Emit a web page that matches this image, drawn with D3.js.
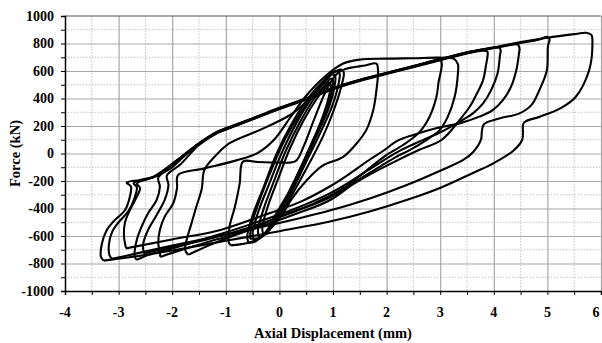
<!DOCTYPE html>
<html>
<head>
<meta charset="utf-8">
<script src="https://cdn.jsdelivr.net/npm/d3@7"></script>
<style>
  body { margin: 0; background: #fff; }
  svg { display: block; }
  text { font-family: "Liberation Serif", "Times New Roman", serif; font-weight: bold; fill: #000; }
</style>
</head>
<body>
<svg id="chart" width="602" height="343"></svg>
<script>
// axis ticks
const xTicks = [-4, -3, -2, -1, 0, 1, 2, 3, 4, 5, 6];
const yTicks = [-1000, -800, -600, -400, -200, 0, 200, 400, 600, 800, 1000];

// hysteresis loops, [displacement mm, force kN]
const loop1 = [[-3.28,-779],[-3.33,-750],[-3.31,-653],[-3.22,-556],[-3.1,-496],[-2.88,-411],[-2.79,-314],[-2.77,-240],[-2.85,-212],[-2.6,-192],[-2.35,-168],[-1.9,-45],[-1.5,75],[-1.15,160],[-0.8,212],[-0.4,272],[0,332],[0.5,402],[1,477],[1.5,537],[2,587],[2.5,637],[3,687],[3.5,737],[4,772],[4.5,810],[5,842],[5.5,868],[5.72,878],[5.82,862],[5.84,800],[5.78,607],[5.53,413],[5.25,330],[4.86,268],[4.6,235],[4.55,215],[4.53,100],[4.37,22],[4.0,-70],[3.62,-140],[3.03,-245],[2.4,-335],[1.7,-420],[0.94,-495],[0,-565],[-1,-635],[-2,-705],[-2.8,-755],[-3.28,-779]];
const loop2 = [[-3.12,-766],[-3.17,-740],[-3.18,-660],[-3.12,-570],[-3.0,-500],[-2.82,-420],[-2.7,-320],[-2.66,-245],[-2.72,-215],[-2.5,-190],[-2.3,-165],[-1.9,-52],[-1.5,68],[-1.15,153],[-0.8,205],[-0.4,265],[0,326],[0.5,396],[1,471],[1.5,531],[2,582],[2.5,632],[3,681],[3.5,731],[4,767],[4.5,803],[4.85,830],[5.0,848],[5.04,832],[5.01,780],[4.99,606],[4.85,461],[4.70,352],[4.48,292],[4.1,255],[3.82,215],[3.78,170],[3.76,100],[3.62,13],[3.43,-47],[3.0,-125],[2.4,-225],[1.7,-325],[0.94,-415],[0,-505],[-1,-590],[-2,-670],[-2.7,-730],[-3.12,-766]];
const loop3 = [[-2.86,-690],[-2.9,-600],[-2.88,-500],[-2.8,-420],[-2.68,-330],[-2.6,-250],[-2.66,-218],[-2.4,-178],[-2.28,-160],[-1.9,-48],[-1.5,72],[-1.15,157],[-0.8,208],[-0.4,268],[0,329],[0.5,399],[1,474],[1.5,534],[2,584],[2.5,634],[3,684],[3.5,734],[4,769],[4.38,795],[4.45,792],[4.48,765],[4.47,728],[4.42,606],[4.32,485],[4.17,388],[3.98,316],[3.73,268],[3.36,219],[2.94,185],[2.5,135],[2.19,90],[1.94,20],[1.7,-40],[1.3,-150],[0.94,-240],[0.4,-350],[-0.3,-450],[-1.1,-556],[-2.0,-625],[-2.6,-670],[-2.86,-690]];
const loop4 = [[-2.66,-774],[-2.7,-750],[-2.66,-628],[-2.57,-531],[-2.45,-434],[-2.29,-338],[-2.23,-241],[-2.26,-175],[-2.0,-100],[-1.75,-10],[-1.5,70],[-1.15,158],[-0.8,210],[-0.4,270],[0,330],[0.5,400],[1,475],[1.5,535],[2,585],[2.5,635],[3,685],[3.5,735],[3.95,765],[4.1,770],[4.13,745],[4.12,728],[4.07,582],[3.95,461],[3.8,364],[3.61,292],[3.42,245],[3.03,160],[2.6,85],[2.2,10],[1.7,-110],[1.3,-210],[0.94,-290],[0.3,-400],[-0.5,-510],[-1.3,-610],[-2.0,-690],[-2.5,-745],[-2.66,-774]];
const loop5 = [[-2.52,-728],[-2.54,-700],[-2.54,-653],[-2.45,-556],[-2.29,-447],[-2.14,-338],[-2.07,-229],[-2.1,-160],[-1.85,-80],[-1.5,62],[-1.15,150],[-0.8,203],[-0.4,263],[0,323],[0.5,393],[1,468],[1.5,528],[2,578],[2.5,628],[3,678],[3.5,728],[3.8,748],[3.88,742],[3.88,700],[3.86,655],[3.8,534],[3.67,425],[3.55,340],[3.36,243],[3.03,100],[2.6,25],[2.2,-50],[1.7,-150],[1.3,-240],[0.94,-320],[0.3,-420],[-0.5,-530],[-1.3,-620],[-2.0,-680],[-2.4,-715],[-2.52,-728]];
const loop6 = [[-2.22,-752],[-2.24,-700],[-2.26,-653],[-2.23,-556],[-2.14,-459],[-1.98,-362],[-1.91,-253],[-1.89,-156],[-1.42,-110],[-0.8,-50],[-0.4,5],[-0.1,100],[0.2,260],[0.5,420],[0.85,560],[1.19,654],[1.5,683],[2.0,690],[2.5,693],[3.0,697],[3.25,690],[3.33,650],[3.33,581],[3.27,412],[3.14,266],[2.99,170],[2.74,97],[2.43,24],[2.18,-24],[1.9,-90],[1.5,-185],[0.94,-340],[0.3,-440],[-0.5,-550],[-1.3,-640],[-1.9,-710],[-2.22,-752]];
const loop7 = [[-1.70,-737],[-1.76,-700],[-1.73,-628],[-1.64,-508],[-1.55,-387],[-1.45,-260],[-1.40,-120],[-1.2,-20],[-0.93,75],[-0.36,172],[0.2,280],[0.6,400],[1.0,470],[1.5,533],[2,583],[2.5,633],[2.9,678],[3.0,684],[3.03,650],[2.97,520],[2.93,412],[2.8,266],[2.6,150],[2.3,60],[2.0,-10],[1.7,-100],[1.2,-250],[0.6,-370],[0,-460],[-0.6,-560],[-1.2,-650],[-1.6,-718],[-1.70,-737]];
const loop8 = [[-0.9,-668],[-0.94,-652],[-0.93,-532],[-0.83,-387],[-0.74,-217],[-0.68,-59],[-0.4,-62],[0,-66],[0.3,-55],[0.45,50],[0.65,250],[0.9,480],[1.1,590],[1.25,617],[1.6,640],[1.81,654],[1.84,605],[1.81,460],[1.75,315],[1.62,170],[1.44,73],[1.19,-24],[0.8,-90],[0.49,-203],[0.24,-324],[0.05,-445],[-0.2,-560],[-0.5,-640],[-0.9,-668]];
const loop9 = [[-0.58,-648],[-0.6,-600],[-0.5,-450],[-0.3,-250],[-0.05,0],[0.25,230],[0.55,410],[0.85,540],[1.05,600],[1.12,585],[1.1,500],[0.97,330],[0.75,140],[0.5,-60],[0.25,-260],[0,-430],[-0.25,-570],[-0.45,-640],[-0.58,-648]];
const loop10 = [[-0.48,-628],[-0.5,-580],[-0.4,-430],[-0.2,-230],[0.05,10],[0.33,230],[0.6,400],[0.85,520],[0.98,575],[1.04,560],[1.02,470],[0.9,310],[0.68,120],[0.44,-80],[0.2,-270],[-0.05,-440],[-0.25,-570],[-0.38,-620],[-0.48,-628]];
const loop11 = [[-0.38,-610],[-0.4,-560],[-0.3,-410],[-0.1,-200],[0.12,20],[0.4,240],[0.65,400],[0.88,510],[0.96,545],[1.0,530],[0.97,440],[0.85,290],[0.62,90],[0.4,-100],[0.16,-290],[-0.08,-450],[-0.22,-560],[-0.3,-600],[-0.38,-610]];
const loop12 = [[-0.3,-590],[-0.32,-540],[-0.22,-390],[-0.02,-180],[0.2,40],[0.45,240],[0.7,400],[0.88,490],[0.93,515],[0.96,500],[0.92,410],[0.8,260],[0.6,70],[0.38,-120],[0.15,-310],[-0.06,-460],[-0.18,-550],[-0.24,-585],[-0.3,-590]];
const loop13 = [[-0.55,-620],[-0.52,-520],[-0.38,-350],[-0.15,-120],[0.1,100],[0.4,300],[0.7,460],[0.95,570],[1.15,610],[1.2,590],[1.15,480],[1.0,300],[0.82,130],[0.6,-40],[0.35,-220],[0.1,-390],[-0.15,-530],[-0.35,-610],[-0.55,-620]];

const loops = [loop1, loop2, loop3, loop4, loop5, loop6, loop7, loop8, loop9, loop10, loop11, loop12, loop13];

const plotLeft = 65, plotRight = 601, plotTop = 16, plotBottom = 291;

const svg = d3.select("#chart");

const x = d3.scaleLinear().domain([-4, 6]).range([plotLeft, plotRight]);
const y = d3.scaleLinear().domain([-1000, 1000]).range([plotBottom, plotTop]);

// minor grid (dotted)
const grid = svg.append("g");
grid.selectAll(".vminor")
  .data(d3.range(-3.5, 6, 1))
  .join("line")
  .attr("x1", (d) => x(d)).attr("x2", (d) => x(d))
  .attr("y1", plotTop).attr("y2", plotBottom)
  .attr("stroke", "#c4c4c4").attr("stroke-dasharray", "1.5,1.5");
grid.selectAll(".hminor")
  .data(d3.range(-900, 1000, 200))
  .join("line")
  .attr("x1", plotLeft).attr("x2", plotRight)
  .attr("y1", (d) => y(d)).attr("y2", (d) => y(d))
  .attr("stroke", "#c4c4c4").attr("stroke-dasharray", "1.5,1.5");

// major grid
grid.append("g")
  .attr("transform", `translate(0,${plotBottom})`)
  .call(d3.axisBottom(x).tickValues(xTicks.slice(1)).tickSize(-(plotBottom - plotTop)).tickFormat(""))
  .call((g) => g.select(".domain").remove())
  .call((g) => g.selectAll("line").attr("stroke", "#a8a8a8").attr("stroke-width", 1.2));
grid.append("g")
  .attr("transform", `translate(${plotLeft},0)`)
  .call(d3.axisLeft(y).tickValues(yTicks.slice(1, -1)).tickSize(-(plotRight - plotLeft)).tickFormat(""))
  .call((g) => g.select(".domain").remove())
  .call((g) => g.selectAll("line").attr("stroke", "#a8a8a8").attr("stroke-width", 1.2));

// top border
svg.append("line")
  .attr("x1", plotLeft).attr("x2", plotRight)
  .attr("y1", y(1000)).attr("y2", y(1000))
  .attr("stroke", "#555").attr("stroke-width", 1.2);

// loops
const line = d3.line()
  .x((d) => x(d[0]))
  .y((d) => y(d[1]))
  .curve(d3.curveCatmullRom.alpha(0.5));

svg.append("g")
  .selectAll("path")
  .data(loops)
  .join("path")
  .attr("d", line)
  .attr("fill", "none")
  .attr("stroke", "#000")
  .attr("stroke-width", 2.1)
  .attr("stroke-linejoin", "round");

// axes
const xAxis = svg.append("g")
  .attr("transform", `translate(0,${plotBottom})`)
  .call(d3.axisBottom(x).tickValues(d3.range(-4, 6.01, 0.5)).tickSize(4).tickFormat(""));
xAxis.select(".domain").attr("stroke", "#000").attr("stroke-width", 1.5);
xAxis.selectAll("line").attr("stroke", "#000").attr("stroke-width", 1);

const yAxis = svg.append("g")
  .attr("transform", `translate(${plotLeft},0)`)
  .call(d3.axisLeft(y).tickValues(d3.range(-1000, 1001, 100)).tickSize(4).tickFormat(""));
yAxis.select(".domain").attr("stroke", "#000").attr("stroke-width", 1.5);
yAxis.selectAll("line").attr("stroke", "#000").attr("stroke-width", 1);

// tick labels (last one nudged inside the window edge)
svg.append("g")
  .selectAll("text")
  .data(xTicks)
  .join("text")
  .attr("x", (d) => Math.min(x(d), 596))
  .attr("y", 317)
  .attr("text-anchor", "middle")
  .attr("font-size", 14)
  .text((d) => d);

svg.append("g")
  .selectAll("text")
  .data(yTicks)
  .join("text")
  .attr("x", 54)
  .attr("y", (d) => y(d))
  .attr("dy", "0.35em")
  .attr("text-anchor", "end")
  .attr("font-size", 14)
  .text((d) => d);

// axis titles
svg.append("text")
  .attr("x", (plotLeft + plotRight) / 2)
  .attr("y", 338)
  .attr("text-anchor", "middle")
  .attr("font-size", 14.5)
  .text("Axial Displacement (mm)");

svg.append("text")
  .attr("transform", `translate(20,${(plotTop + plotBottom) / 2}) rotate(-90)`)
  .attr("text-anchor", "middle")
  .attr("font-size", 14.5)
  .text("Force (kN)");
</script>
</body>
</html>
